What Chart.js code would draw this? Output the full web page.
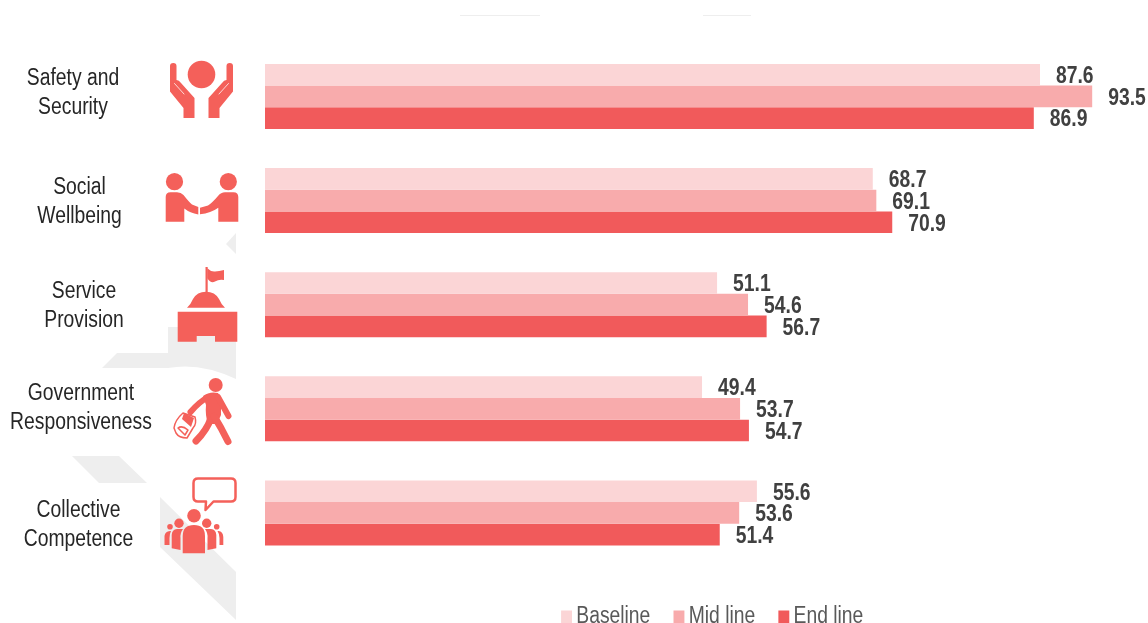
<!DOCTYPE html>
<html>
<head>
<meta charset="utf-8">
<style>
  html, body { margin: 0; padding: 0; background: #fff; overflow: hidden; }
  canvas { display: block; }
</style>
<script src="https://cdn.jsdelivr.net/npm/chart.js@4/dist/chart.umd.min.js"></script>
</head>
<body>
<canvas id="chart" width="1148" height="623"></canvas>
<script>
const categories = [
  ["Safety and", "Security"],
  ["Social", "Wellbeing"],
  ["Service", "Provision"],
  ["Government", "Responsiveness"],
  ["Collective", "Competence"],
];
const baseline = [87.6, 68.7, 51.1, 49.4, 55.6];
const midLine = [93.5, 69.1, 54.6, 53.7, 53.6];
const endLine = [86.9, 70.9, 56.7, 54.7, 51.4];

const FONT = '"Liberation Sans", sans-serif';
const NARROW = 0.84; // no narrow face installed, so squeeze the text
const RED = "#f4605a";

// text boxes in the original are not quite lined up with the bars
const labelX = [73, 79.5, 84, 81, 78.5];
const labelDy = [-3, 2, 1.5, -0.5, 12.5];

// watermark shapes behind the icons
const greyShapes = [
  "M236 233L226 244L236 254Z",
  "M168 327H236V379Q200 362 168 368H102L117 353H168Z",
  "M72 456H119L147 483H99Z",
  "M160 497L236 572V620L160 547Z",
];

function fillP(ctx, d) { ctx.fill(new Path2D(d)); }
function circle(ctx, x, y, r) { ctx.beginPath(); ctx.arc(x, y, r, 0, Math.PI * 2); ctx.fill(); }
function line(ctx, d, w) {
  ctx.lineWidth = w; ctx.lineCap = "round"; ctx.lineJoin = "round";
  ctx.stroke(new Path2D(d));
}
function narrowText(ctx, text, x, y) {
  ctx.save();
  ctx.translate(x, y);
  ctx.scale(NARROW, 1);
  ctx.fillText(text, 0, 0);
  ctx.restore();
}

function hands(ctx) {
  circle(ctx, 201.5, 74.5, 13.8);
  const hand = "M170 66Q170 63 173.3 63Q176.5 63 176.5 66V80Q179 80 181 83L194.5 98V118H183.5V108L170 91.5Z";
  const crease = "M174.5 83.5L184 94";
  ctx.fill(new Path2D(hand));
  ctx.save();
  ctx.strokeStyle = "rgba(255,255,255,0.75)";
  line(ctx, crease, 1);
  ctx.translate(403, 0);
  ctx.scale(-1, 1);
  ctx.fill(new Path2D(hand));
  line(ctx, crease, 1);
  ctx.restore();
}

function handshake(ctx) {
  circle(ctx, 174.5, 181.7, 8.6);
  circle(ctx, 228.3, 181.7, 8.6);
  fillP(ctx, "M165.7 221.7V197Q165.7 192.3 170.5 192.3H177Q181 192.3 183.5 195Q189 202 192 204.5L198.3 207V214.5Q190 213 184.3 208.5V221.7Z");
  fillP(ctx, "M238.3 221.7V197Q238.3 192.3 233.5 192.3H225Q221 192.3 218 196Q212 203 208 205.5L200 207.7V214.3Q211 213 218.3 207.7V221.7Z");
}

function podium(ctx) {
  fillP(ctx, "M205.5 267H207.7V292H205.5Z");
  fillP(ctx, "M207.3 268.3Q211 272 215 271.5T224 270V280Q219 279 215 281.5T207.3 278.3Z");
  fillP(ctx, "M187 307.7Q191 304 193 299Q197 291.7 206 291.7Q215 291.7 219 299Q221 304 225 307.7Z");
  fillP(ctx, "M177.7 311.7H237.3V341.7H215V336H196.7V341.7H177.7Z");
}

function walker(ctx) {
  circle(ctx, 215.7, 385, 7);
  fillP(ctx, "M203 396Q210 391 218 393L221 400V415L217 424H208Q205 415 206 405Z");
  line(ctx, "M208 397Q199 402 190.5 412", 6);
  line(ctx, "M218 397L228.5 416", 6);
  line(ctx, "M211 418Q207 430 196 441", 7);
  line(ctx, "M214 416L221 428L228 441.5", 7);
  // backpack outline
  line(ctx, "M174 428Q175 420 183 413L195 417Q197 424 193 428L187 438Q179 438 176 433Z", 1.5);
  fillP(ctx, "M182 419L184 413L194 418L191 427Z");
  line(ctx, "M178 428Q182 425 188 430L185 435Z", 1.5);
}

function crowd(ctx) {
  ctx.lineJoin = "round";
  ctx.lineWidth = 2.5;
  ctx.stroke(new Path2D("M198 478.5H231Q235.5 478.5 235.5 483V497Q235.5 501.5 231 501.5H213.5L205.5 510L206 501.5H198Q193.5 501.5 193.5 497V483Q193.5 478.5 198 478.5Z"));
  circle(ctx, 194, 515.7, 6.8);
  circle(ctx, 179, 523.3, 4.7);
  circle(ctx, 206.7, 523.3, 4.7);
  circle(ctx, 170, 526.7, 2.8);
  circle(ctx, 216.7, 526.7, 2.8);
  fillP(ctx, "M182.7 553.3V536Q182.7 525 194 525Q205 525 205 536V553.3Z");
  fillP(ctx, "M171.7 548.3V535Q172 529.5 177 529H183Q180 533 180.5 538V550Z");
  fillP(ctx, "M216.3 548.3V535Q216 529.5 211 529H205Q208 533 207.5 538V550Z");
  fillP(ctx, "M164.5 545V536Q165 531.5 170 531H171Q169.5 534 169.5 538V545Z");
  fillP(ctx, "M223.3 545V537Q223 531.5 218.5 531H217.5Q219.5 534 219.5 538V545Z");
}

const icons = [hands, handshake, podium, walker, crowd];

const LEGEND_X = 566.5;
const LEGEND_PAD = 34;

const decorPlugin = {
  id: "decor",
  // the legend sits where the original has it, partly off the bottom, and squeezed like the rest
  afterLayout(chart) {
    const lg = chart.legend;
    const w = lg.right - lg.left;
    lg.left = LEGEND_X - LEGEND_PAD;
    lg.right = lg.left + w;
    lg.top = 571.5;
    lg.bottom = 623;
    if (!lg._squeezed) {
      const draw = lg.draw;
      lg.draw = function () {
        const ctx = chart.ctx;
        ctx.save();
        ctx.translate(LEGEND_X, 0);
        ctx.scale(NARROW, 1);
        ctx.translate(-LEGEND_X, 0);
        draw.call(this);
        ctx.restore();
      };
      lg._squeezed = true;
    }
  },
  beforeDatasetsDraw(chart) {
    const ctx = chart.ctx;
    ctx.save();
    ctx.fillStyle = "#eeeeee";
    greyShapes.forEach(s => ctx.fill(new Path2D(s)));
    ctx.strokeStyle = "#eeeeee";
    ctx.lineWidth = 1;
    ctx.beginPath();
    ctx.moveTo(460, 15.5); ctx.lineTo(540, 15.5);
    ctx.moveTo(703, 15.5); ctx.lineTo(751, 15.5);
    ctx.stroke();

    ctx.fillStyle = RED;
    ctx.strokeStyle = RED;
    icons.forEach(fn => { ctx.save(); fn(ctx); ctx.restore(); });
    ctx.restore();
  },
  afterDatasetsDraw(chart) {
    const ctx = chart.ctx;
    ctx.save();
    // value labels
    ctx.font = "bold 23px " + FONT;
    ctx.fillStyle = "#404040";
    ctx.textAlign = "left";
    ctx.textBaseline = "middle";
    chart.data.datasets.forEach((ds, d) => {
      chart.getDatasetMeta(d).data.forEach((bar, i) => {
        narrowText(ctx, ds.data[i].toFixed(1), bar.x + 16, bar.y + 2);
      });
    });
    // category labels
    ctx.font = "23px " + FONT;
    ctx.fillStyle = "#262626";
    ctx.textAlign = "center";
    const yScale = chart.scales.y;
    categories.forEach((lines, i) => {
      const cy = yScale.getPixelForTick(i) + labelDy[i];
      narrowText(ctx, lines[0], labelX[i], cy - 14.5);
      narrowText(ctx, lines[1], labelX[i], cy + 14.5);
    });
    ctx.restore();
  },
};

new Chart(document.getElementById("chart"), {
  type: "bar",
  data: {
    labels: categories,
    datasets: [
      { label: "Baseline", data: baseline, backgroundColor: "#fbd5d6" },
      { label: "Mid line", data: midLine, backgroundColor: "#f8abac" },
      { label: "End line", data: endLine, backgroundColor: "#f15a5b" },
    ],
  },
  options: {
    indexAxis: "y",
    responsive: false,
    animation: false,
    layout: { padding: { left: 265, right: 16, top: 44.4, bottom: 0 } },
    datasets: { bar: { categoryPercentage: 0.625, barPercentage: 1 } },
    scales: {
      x: { display: false, min: 0, max: 98 },
      y: { display: false },
    },
    plugins: {
      tooltip: { enabled: false },
      legend: {
        position: "bottom",
        align: "start",
        maxHeight: 58,
        labels: {
          usePointStyle: true,
          pointStyle: "rect",
          boxWidth: 0.1,
          boxHeight: 13,
          padding: LEGEND_PAD,
          color: "#595959",
          font: { family: FONT, size: 23 },
        },
      },
    },
  },
  plugins: [decorPlugin],
});
</script>
</body>
</html>
